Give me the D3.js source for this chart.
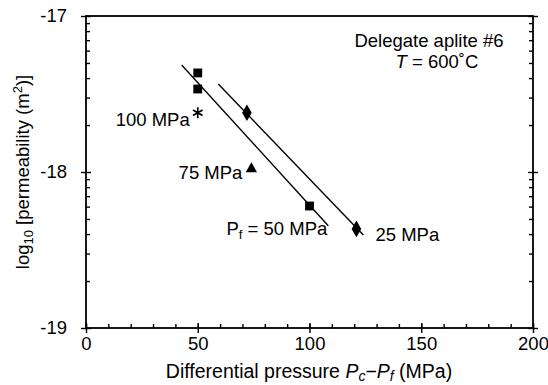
<!DOCTYPE html>
<html>
<head>
<meta charset="utf-8">
<script src="https://cdn.jsdelivr.net/npm/d3@7"></script>
<style>
  body { margin: 0; background: #fff; }
  svg { display: block; font-family: "Liberation Sans", Arial, Helvetica, sans-serif; }
  .axis path, .axis line { stroke: #000; }
</style>
</head>
<body>
<svg id="chart" width="548" height="385"></svg>
<script>
// tick labels
const xMajor = [0, 50, 100, 150, 200];
const xMinor = d3.range(0, 201, 10);
const yMajor = [-17, -18, -19];
const mantissas = [2, 3, 4, 5, 6, 7, 8, 9];

// measured points: differential pressure (MPa), log10 permeability
const pf50X = [50, 50, 100];
const pf50Y = [-17.365, -17.468, -18.218];
const pf25X = [72, 121];
const pf25Y = [-17.62, -18.365];
const pf100X = [50];
const pf100Y = [-17.62];
const pf75X = [74];
const pf75Y = [-17.98];

// fitted lines (end points)
const fit50X = [42.8, 108.4];
const fit50Y = [-17.314, -18.344];
const fit25X = [59.2, 124.1];
const fit25Y = [-17.436, -18.404];

const margin = { top: 16, right: 15, bottom: 57, left: 86 };
const width = 548, height = 385;

const svg = d3.select("#chart");

const x = d3.scaleLinear().domain([0, 200]).range([margin.left, width - margin.right]);
const y = d3.scaleLinear().domain([-19, -17]).range([height - margin.bottom, margin.top]);

const yMinor = [];
[-19, -18].forEach(d => mantissas.forEach(m => yMinor.push(d + Math.log10(m))));

const fs = "18.5px";

// frame
svg.append("rect")
    .attr("x", x(0)).attr("y", y(-17))
    .attr("width", x(200) - x(0)).attr("height", y(-19) - y(-17))
    .attr("fill", "none").attr("stroke", "#000").attr("stroke-width", 1.8);

// bottom axis: inner ticks
svg.append("g")
    .attr("class", "axis")
    .attr("transform", `translate(0,${y(-19)})`)
    .call(d3.axisBottom(x).tickValues(xMinor).tickSize(-4).tickFormat(""))
    .call(g => g.select(".domain").remove())
    .selectAll("line").attr("stroke-width", 1.4);

svg.append("g")
    .attr("class", "axis")
    .attr("transform", `translate(0,${y(-19)})`)
    .call(d3.axisBottom(x).tickValues(xMajor).tickSizeInner(5).tickSizeOuter(0).tickPadding(4).tickFormat(d3.format("d")))
    .call(g => g.select(".domain").remove())
    .call(g => g.selectAll("line").attr("y1", -5).attr("stroke-width", 1.4))
    .call(g => g.selectAll("text").attr("font-size", fs).attr("font-family", null).attr("fill", "#000"));

// left axis
svg.append("g")
    .attr("class", "axis")
    .attr("transform", `translate(${x(0)},0)`)
    .call(d3.axisLeft(y).tickValues(yMinor).tickSize(-4).tickFormat(""))
    .call(g => g.select(".domain").remove())
    .selectAll("line").attr("stroke-width", 1.4);

svg.append("g")
    .attr("class", "axis")
    .attr("transform", `translate(${x(0)},0)`)
    .call(d3.axisLeft(y).tickValues(yMajor).tickSizeInner(5).tickSizeOuter(0).tickPadding(14).tickFormat(d => String(d).replace("\u2212", "-")))
    .call(g => g.select(".domain").remove())
    .call(g => g.selectAll("line").attr("x1", 5).attr("stroke-width", 1.4))
    .call(g => g.selectAll("text").attr("font-size", fs).attr("font-family", null).attr("fill", "#000"));

// right axis
svg.append("g")
    .attr("class", "axis")
    .attr("transform", `translate(${x(200)},0)`)
    .call(d3.axisRight(y).tickValues(yMinor).tickSize(-4).tickFormat(""))
    .call(g => g.select(".domain").remove())
    .selectAll("line").attr("stroke-width", 1.4);

svg.append("g")
    .attr("class", "axis")
    .attr("transform", `translate(${x(200)},0)`)
    .call(d3.axisRight(y).tickValues(yMajor).tickSizeInner(5).tickSizeOuter(0).tickFormat(""))
    .call(g => g.select(".domain").remove())
    .selectAll("line").attr("x1", -5).attr("stroke-width", 1.4);

// fit lines
const line = d3.line().x(d => x(d[0])).y(d => y(d[1]));
[[fit50X, fit50Y], [fit25X, fit25Y]].forEach(([xs, ys]) => {
    svg.append("path")
        .attr("d", line(d3.zip(xs, ys)))
        .attr("fill", "none").attr("stroke", "#000").attr("stroke-width", 1.4);
});

// markers
const sym = (type, size) => d3.symbol().type(type).size(size);
function points(xs, ys, type, size) {
    svg.append("g").selectAll("path")
        .data(d3.zip(xs, ys))
        .join("path")
        .attr("transform", d => `translate(${x(d[0])},${y(d[1])})`)
        .attr("d", sym(type, size))
        .attr("fill", "#000");
}
points(pf50X, pf50Y, d3.symbolSquare, 78);
points(pf25X, pf25Y, d3.symbolDiamond, 80);
points(pf75X, pf75Y, d3.symbolTriangle, 55);

// asterisk
svg.append("g").selectAll("path")
    .data(d3.zip(pf100X, pf100Y))
    .join("path")
    .attr("transform", d => `translate(${x(d[0])},${y(d[1])})`)
    .attr("d", "M0,-5.5V5.5M-4.8,-2.8L4.8,2.8M-4.8,2.8L4.8,-2.8")
    .attr("stroke", "#000").attr("stroke-width", 1.7);

// annotations
function label(xp, yp, anchor) {
    return svg.append("text")
        .attr("x", xp).attr("y", yp)
        .attr("text-anchor", anchor)
        .attr("font-size", fs);
}
label(x(pf100X[0]) - 8, y(pf100Y[0]) + 13, "end").text("100 MPa");
label(x(pf75X[0]) - 9, y(pf75Y[0]) + 10, "end").text("75 MPa");
const pfl = label(x(fit50X[1]) - 1, y(fit50Y[1]) + 9, "end");
pfl.append("tspan").text("P");
pfl.append("tspan").attr("font-size", "13px").attr("dy", 4).text("f");
pfl.append("tspan").attr("dy", -4).text(" = 50 MPa");
label(x(pf25X[1]) + 19, y(pf25Y[1]) + 12, "start").text("25 MPa");

label(429, 47, "middle").text("Delegate aplite #6");
const tl = label(437, 68, "middle");
tl.append("tspan").attr("font-style", "italic").text("T");
tl.append("tspan").text(" = 600\u02DAC");

// axis titles
const xt = svg.append("text")
    .attr("x", 309).attr("y", 378)
    .attr("text-anchor", "middle").attr("font-size", "19.5px");
xt.append("tspan").text("Differential pressure ");
xt.append("tspan").attr("font-style", "italic").text("P");
xt.append("tspan").attr("font-style", "italic").attr("font-size", "14px").attr("dy", 3).text("c");
xt.append("tspan").attr("dy", -3).text("\u2212");
xt.append("tspan").attr("font-style", "italic").text("P");
xt.append("tspan").attr("font-style", "italic").attr("font-size", "14px").attr("dy", 3).text("f");
xt.append("tspan").attr("dy", -3).text(" (MPa)");

const yt = svg.append("text")
    .attr("transform", `translate(29,${(y(-17) + y(-19)) / 2}) rotate(-90)`)
    .attr("text-anchor", "middle").attr("font-size", fs);
yt.append("tspan").text("log");
yt.append("tspan").attr("font-size", "13px").attr("dy", 4).text("10");
yt.append("tspan").attr("dy", -4).text(" [permeability (m");
yt.append("tspan").attr("font-size", "13px").attr("dy", -7).text("2");
yt.append("tspan").attr("dy", 7).text(")]");
</script>
</body>
</html>
